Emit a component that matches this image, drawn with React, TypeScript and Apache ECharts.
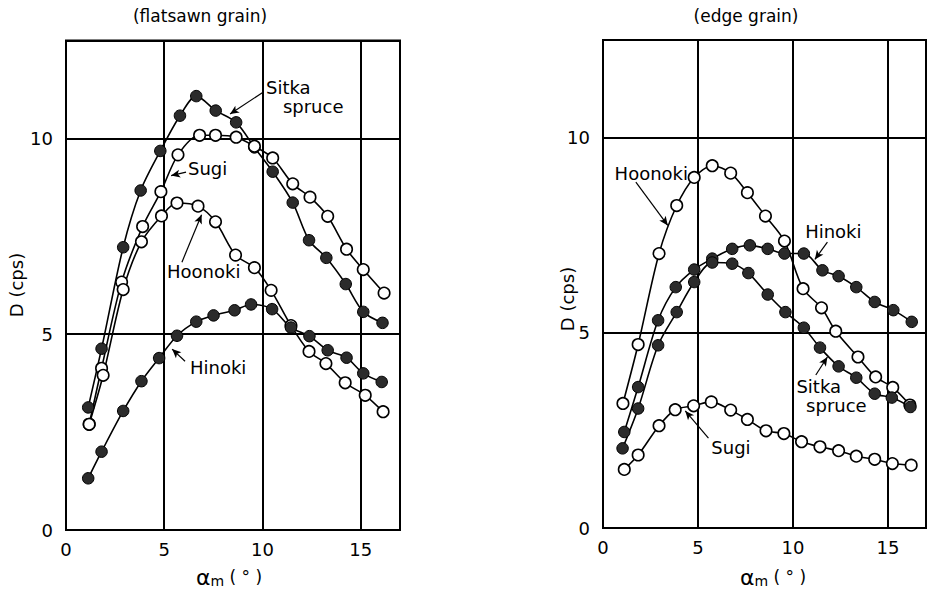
import { useEffect, useRef } from 'react';
import * as echarts from 'echarts';

const FONT = '"DejaVu Sans", "Liberation Sans", sans-serif';

// Tick values (both panels)
const xTickStep = 5;
const yTickStep = 5;
const xMax = 17;
const yMax = 12.5;

// ---------- Flatsawn grain (left panel) ----------
const flatSitkaX = [1.13, 1.81, 2.91, 3.8, 4.8, 5.8, 6.63, 7.62, 8.66, 9.59, 10.52, 11.54, 12.37, 13.25, 14.24, 15.13, 16.11];
const flatSitkaY = [3.13, 4.63, 7.22, 8.67, 9.68, 10.58, 11.08, 10.71, 10.41, 9.77, 9.15, 8.36, 7.4, 6.95, 6.28, 5.57, 5.29];

const flatSugiX = [1.18, 1.81, 2.83, 3.9, 4.83, 5.7, 6.8, 7.61, 8.66, 9.59, 10.52, 11.54, 12.42, 13.32, 14.28, 15.13, 16.19];
const flatSugiY = [2.7, 4.13, 6.33, 7.75, 8.64, 9.58, 10.08, 10.08, 10.03, 9.8, 9.5, 8.84, 8.5, 8.01, 7.17, 6.65, 6.05];

const flatHoonokiX = [1.18, 1.89, 2.91, 3.84, 4.86, 5.65, 6.72, 7.61, 8.63, 9.59, 10.44, 11.45, 12.37, 13.23, 14.21, 15.23, 16.14];
const flatHoonokiY = [2.7, 3.95, 6.14, 7.36, 8.02, 8.35, 8.27, 7.87, 7.02, 6.7, 6.12, 5.22, 4.56, 4.25, 3.76, 3.44, 3.02];

const flatHinokiX = [1.13, 1.81, 2.91, 3.84, 4.74, 5.65, 6.63, 7.51, 8.58, 9.42, 10.49, 11.45, 12.39, 13.32, 14.28, 15.13, 16.07];
const flatHinokiY = [1.32, 2.0, 3.04, 3.8, 4.39, 4.96, 5.32, 5.48, 5.61, 5.76, 5.64, 5.17, 4.95, 4.59, 4.4, 4.0, 3.78];

// ---------- Edge grain (right panel) ----------
const edgeHoonokiX = [1.05, 1.85, 2.95, 3.88, 4.8, 5.75, 6.72, 7.6, 8.55, 9.55, 10.53, 11.5, 12.25, 13.42, 14.35, 15.25, 16.15];
const edgeHoonokiY = [3.19, 4.7, 7.03, 8.26, 8.98, 9.28, 9.09, 8.59, 7.99, 7.35, 6.13, 5.64, 5.04, 4.38, 3.87, 3.6, 3.15];

const edgeHinokiX = [1.12, 1.85, 2.9, 3.83, 4.8, 5.75, 6.8, 7.73, 8.67, 9.55, 10.57, 11.55, 12.4, 13.33, 14.3, 15.28, 16.25];
const edgeHinokiY = [2.46, 3.61, 5.32, 6.17, 6.62, 6.9, 7.15, 7.24, 7.15, 7.03, 7.03, 6.6, 6.45, 6.17, 5.79, 5.58, 5.28];

const edgeSitkaX = [1.03, 1.85, 2.9, 3.88, 4.8, 5.75, 6.8, 7.65, 8.67, 9.6, 10.57, 11.42, 12.4, 13.33, 14.3, 15.2, 16.18];
const edgeSitkaY = [2.04, 3.06, 4.68, 5.53, 6.3, 6.8, 6.77, 6.53, 5.98, 5.53, 5.13, 4.62, 4.14, 3.85, 3.44, 3.34, 3.1];

const edgeSugiX = [1.12, 1.85, 2.95, 3.8, 4.77, 5.7, 6.72, 7.6, 8.58, 9.52, 10.45, 11.42, 12.4, 13.33, 14.3, 15.23, 16.22];
const edgeSugiY = [1.5, 1.87, 2.62, 3.03, 3.13, 3.23, 3.02, 2.78, 2.49, 2.42, 2.21, 2.08, 1.98, 1.84, 1.76, 1.65, 1.61];

// Series definitions (leader = arrow from label to curve, in data units)
const seriesDefs = [
  { name: 'Sitka spruce (flatsawn)', grid: 0, xs: flatSitkaX, ys: flatSitkaY, filled: true, leader: [[10.03, 11.18], [8.35, 10.62]] },
  { name: 'Sugi (flatsawn)', grid: 0, xs: flatSugiX, ys: flatSugiY, filled: false, leader: [[6.11, 9.14], [5.35, 9.05]] },
  { name: 'Hoonoki (flatsawn)', grid: 0, xs: flatHoonokiX, ys: flatHoonokiY, filled: false, leader: [[5.9, 6.84], [6.9, 8.05]] },
  { name: 'Hinoki (flatsawn)', grid: 0, xs: flatHinokiX, ys: flatHinokiY, filled: true, leader: [[6.06, 4.31], [5.4, 4.62]] },
  { name: 'Hoonoki (edge)', grid: 1, xs: edgeHoonokiX, ys: edgeHoonokiY, filled: false, leader: [[1.73, 8.86], [3.41, 7.75]] },
  { name: 'Hinoki (edge)', grid: 1, xs: edgeHinokiX, ys: edgeHinokiY, filled: true, leader: [[11.81, 7.32], [11.15, 6.88]] },
  { name: 'Sitka spruce (edge)', grid: 1, xs: edgeSitkaX, ys: edgeSitkaY, filled: true, leader: [[11.2, 3.92], [11.81, 4.38]] },
  { name: 'Sugi (edge)', grid: 1, xs: edgeSugiX, ys: edgeSugiY, filled: false, leader: [[5.55, 2.3], [4.33, 3.0]] },
];

// Curve labels (data units of the panel, left-anchored)
const curveLabels = [
  { grid: 0, text: 'Sitka', x: 10.18, y: 11.31 },
  { grid: 0, text: 'spruce', x: 11.04, y: 10.82 },
  { grid: 0, text: 'Sugi', x: 6.21, y: 9.24 },
  { grid: 0, text: 'Hoonoki', x: 5.14, y: 6.59 },
  { grid: 0, text: 'Hinoki', x: 6.31, y: 4.16 },
  { grid: 1, text: 'Hoonoki', x: 0.61, y: 9.09 },
  { grid: 1, text: 'Hinoki', x: 10.64, y: 7.6 },
  { grid: 1, text: 'Sitka', x: 10.18, y: 3.63 },
  { grid: 1, text: 'spruce', x: 10.69, y: 3.15 },
  { grid: 1, text: 'Sugi', x: 5.7, y: 2.05 },
];

const panelTitles = ['(flatsawn grain)', '(edge grain)'];
const yAxisTitle = 'D (cps)';

function makeAxis(kind: 'x' | 'y', idx: number) {
  const isX = kind === 'x';
  const step = isX ? xTickStep : yTickStep;
  return {
    type: 'value',
    gridIndex: idx,
    min: 0,
    max: isX ? xMax : yMax,
    interval: step,
    axisLine: { show: false },
    axisTick: { show: false },
    splitLine: { show: true, lineStyle: { color: '#000', width: 2 } },
    axisLabel: {
      color: '#000',
      fontFamily: FONT,
      fontSize: 18,
      margin: isX ? 10 : 13,
      formatter: (v: number) => (Math.abs(v % step) < 1e-9 ? String(v) : ''),
    },
  };
}

export default function App() {
  const ref = useRef<HTMLDivElement>(null);

  useEffect(() => {
    if (!ref.current) return;
    const chart = echarts.init(ref.current, undefined, { renderer: 'svg' });

    const series = seriesDefs.map((d) => ({
      type: 'line',
      name: d.name,
      xAxisIndex: d.grid,
      yAxisIndex: d.grid,
      data: d.xs.map((x, i) => [x, d.ys[i]]),
      smooth: 0.3,
      symbol: 'circle',
      symbolSize: 11.5,
      showSymbol: true,
      lineStyle: { color: '#000', width: 1.6 },
      itemStyle: d.filled
        ? { color: '#2b2b2b', borderColor: '#000', borderWidth: 1 }
        : { color: '#fff', borderColor: '#000', borderWidth: 1.6 },
      markLine: {
        silent: true,
        symbol: ['none', 'arrow'],
        symbolSize: [6, 9],
        label: { show: false },
        lineStyle: { color: '#000', width: 1.2, type: 'solid' },
        data: [[{ coord: d.leader[0] }, { coord: d.leader[1] }]],
      },
    }));

    chart.setOption({
      animation: false,
      backgroundColor: '#fff',
      grid: [
        { left: 66, top: 40.5, width: 334, height: 489.5, show: true, borderColor: '#000', borderWidth: 2, containLabel: false },
        { left: 603, top: 40, width: 334, height: 488, show: true, borderColor: '#000', borderWidth: 2, containLabel: false },
      ],
      xAxis: [makeAxis('x', 0), makeAxis('x', 1)],
      yAxis: [makeAxis('y', 0), makeAxis('y', 1)],
      series,
    });

    const labelEls = curveLabels.map((l) => {
      const p = chart.convertToPixel({ gridIndex: l.grid }, [l.x, l.y]) as number[];
      return {
        type: 'text',
        x: p[0],
        y: p[1],
        z: 100,
        style: {
          text: l.text,
          fontFamily: FONT,
          fontSize: 18,
          fill: '#000',
          align: 'left',
          verticalAlign: 'middle',
        },
      };
    });

    const xNameStyle = (cx: number) => ({
      type: 'text',
      x: cx,
      y: 577,
      style: {
        text: '{a|α}{m|m}{b| ( ° )}',
        align: 'center',
        verticalAlign: 'middle',
        fill: '#000',
        fontFamily: FONT,
        rich: {
          a: { fontSize: 22, fontFamily: FONT, fill: '#000' },
          m: { fontSize: 14, fontFamily: FONT, fill: '#000', verticalAlign: 'bottom', padding: [6, 0, 0, 0] },
          b: { fontSize: 17, fontFamily: FONT, fill: '#000' },
        },
      },
    });

    chart.setOption({
      graphic: [
        { type: 'text', x: 200, y: 16, style: { text: panelTitles[0], fontFamily: FONT, fontSize: 17, fill: '#000', align: 'center', verticalAlign: 'middle' } },
        { type: 'text', x: 746, y: 16, style: { text: panelTitles[1], fontFamily: FONT, fontSize: 17, fill: '#000', align: 'center', verticalAlign: 'middle' } },
        { type: 'text', x: 16, y: 285, rotation: Math.PI / 2, style: { text: yAxisTitle, fontFamily: FONT, fontSize: 18, fill: '#000', align: 'center', verticalAlign: 'middle' } },
        { type: 'text', x: 567, y: 299, rotation: Math.PI / 2, style: { text: yAxisTitle, fontFamily: FONT, fontSize: 18, fill: '#000', align: 'center', verticalAlign: 'middle' } },
        xNameStyle(229),
        xNameStyle(773),
        ...labelEls,
      ],
    });

    return () => chart.dispose();
  }, []);

  return (
    <div
      ref={ref}
      style={{ position: 'fixed', left: 0, top: 0, width: 929, height: 589, background: '#fff' }}
    />
  );
}
